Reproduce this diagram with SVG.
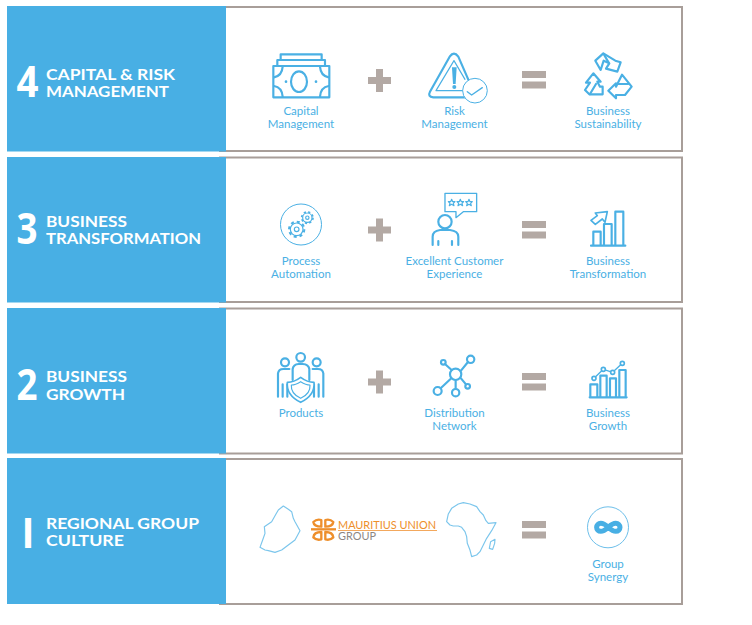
<svg xmlns="http://www.w3.org/2000/svg" width="752" height="625" viewBox="0 0 752 625">
<style>
.frame{fill:#fff;stroke:#a89e99;stroke-width:2}
.blue{fill:#48afe4}
.num{font:700 43px "Open Sans",sans-serif;fill:#fff}
.title{font:700 15.500px "Lato",sans-serif;fill:#fff}
.lbl{font:400 11.500px "Lato",sans-serif;fill:#4ab0e4;text-anchor:middle}
.op{fill:#b3a9a4}
.ic{fill:none;stroke:#4ab0e4;stroke-width:6.500;stroke-linejoin:round;stroke-linecap:round}
.th{fill:none;stroke:#4ab0e4;stroke-width:3.500;stroke-linejoin:round;stroke-linecap:round}
.map{fill:none;stroke:#7cc6ec;stroke-width:3.500;stroke-linejoin:round}
</style>
<defs>
<g id="plus"><rect x="-11.500" y="-3.500" width="23" height="7"/><rect x="-3.500" y="-11.500" width="7" height="23"/></g>
<g id="eq"><rect x="0" y="0" width="24" height="7"/><rect x="0" y="10.500" width="24" height="7"/></g>
</defs>
<rect width="752" height="625" fill="#fff"/>
<g id="row4">
<rect class="frame" x="220" y="7" width="462" height="144"/>
<rect class="blue" x="7" y="6" width="219" height="145.500"/>
<text class="num" x="16.500" y="97" textLength="22" lengthAdjust="spacingAndGlyphs">4</text>
<text class="title" x="46" y="80" textLength="129" lengthAdjust="spacingAndGlyphs">CAPITAL &amp; RISK</text>
<text class="title" x="46" y="97" textLength="123" lengthAdjust="spacingAndGlyphs">MANAGEMENT</text>
</g>
<g id="row3">
<rect class="frame" x="220" y="157.500" width="462" height="144.500"/>
<rect class="blue" x="7" y="157" width="219" height="145.500"/>
<text class="num" x="16.500" y="244" textLength="21" lengthAdjust="spacingAndGlyphs">3</text>
<text class="title" x="46" y="227" textLength="81" lengthAdjust="spacingAndGlyphs">BUSINESS</text>
<text class="title" x="46" y="244" textLength="155" lengthAdjust="spacingAndGlyphs">TRANSFORMATION</text>
</g>
<g id="row2">
<rect class="frame" x="220" y="308.500" width="462" height="145"/>
<rect class="blue" x="7" y="308" width="219" height="145.500"/>
<text class="num" x="16.500" y="400" textLength="21" lengthAdjust="spacingAndGlyphs">2</text>
<text class="title" x="46" y="382" textLength="81" lengthAdjust="spacingAndGlyphs">BUSINESS</text>
<text class="title" x="46" y="400" textLength="79" lengthAdjust="spacingAndGlyphs">GROWTH</text>
</g>
<g id="row1">
<rect class="frame" x="220" y="459" width="462" height="145"/>
<rect class="blue" x="7" y="458" width="219" height="146"/>
<text class="num" x="21.500" y="548" style="font-size:41px" textLength="13" lengthAdjust="spacingAndGlyphs">I</text>
<text class="title" x="46" y="529" textLength="153" lengthAdjust="spacingAndGlyphs">REGIONAL GROUP</text>
<text class="title" x="46" y="546" textLength="78" lengthAdjust="spacingAndGlyphs">CULTURE</text>
</g>
<g id="capital-management">
<g transform="translate(250 40) scale(.3333)">
<rect class="ic" x="70" y="78" width="168" height="94"/>
<path class="ic" d="M82 78V60H225V78M92 60V43H215V60"/>
<ellipse class="ic" cx="147" cy="125" rx="24" ry="31"/>
<path class="ic" d="M72 112Q96 108 98 80M72 138Q96 142 98 170M236 112Q212 108 210 80M236 138Q212 142 210 170"/>
<circle cx="108" cy="125" r="4" fill="#4ab0e4"/><circle cx="198" cy="125" r="4" fill="#4ab0e4"/>
</g>
<text class="lbl" x="301" y="115">Capital</text><text class="lbl" x="301" y="128">Management</text>
</g>
<g id="risk-management">
<g transform="translate(250 40) scale(.3333)">
<path class="ic" d="M660 130L625 50Q612 32 599 50L540 155Q532 170 550 172H650"/>
<path class="th" d="M612 62L558 152H640M612 62L645 118"/>
<path d="M606 82H620L617 132H609Z" fill="#4ab0e4"/><circle cx="613" cy="141" r="6" fill="#4ab0e4"/>
<circle cx="675" cy="152" r="37" fill="#fff" stroke="#4ab0e4" stroke-width="3"/>
<path class="ic" style="stroke-width:4" d="M652 155L665 165L697 143"/>
</g>
<text class="lbl" x="454.500" y="115">Risk</text><text class="lbl" x="454.500" y="128">Management</text>
</g>
<g id="business-sustainability">
<g transform="translate(510 40) scale(.3333)">
<path class="ic" d="M256 62L280 40L316 62L332 67L322 95L288 86L298 70L281 62L272 90Z"/>
<path class="ic" d="M281 42L296 68"/>
<path class="ic" d="M228 128L250 100L272 125L262 125L270 140H278V163H238L225 150L240 128Z"/>
<path class="ic" d="M240 162L258 132"/>
<path class="ic" d="M295 152L318 130V140L336 104L365 140L345 165H318V175Z"/>
<path class="ic" d="M322 132H355"/>
</g>
<text class="lbl" x="608" y="115">Business</text><text class="lbl" x="608" y="128">Sustainability</text>
</g>
<g id="process-automation">
<circle cx="301" cy="224.500" r="20.500" fill="none" stroke="#4ab0e4" stroke-width="1"/>
<g transform="translate(250 185) scale(.3333)">
<circle cx="140" cy="133" r="19" fill="#fff" stroke="#4ab0e4" stroke-width="3.500"/>
<circle cx="140" cy="133" r="23" fill="none" stroke="#4ab0e4" stroke-width="6" stroke-dasharray="9 9"/>
<circle cx="140" cy="133" r="7" class="th"/>
<circle cx="172" cy="98" r="14" fill="#fff" stroke="#4ab0e4" stroke-width="3.500"/>
<circle cx="172" cy="98" r="17" fill="none" stroke="#4ab0e4" stroke-width="5" stroke-dasharray="6.700 6.700"/>
<circle cx="172" cy="98" r="5" class="th"/>
</g>
<text class="lbl" x="301" y="265">Process</text><text class="lbl" x="301" y="278">Automation</text>
</g>
<g id="customer-experience">
<g transform="translate(250 185) scale(.3333)">
<path class="ic" style="stroke-width:4" d="M585 80V25H680V80H640L618 98V80Z"/>
<circle class="ic" cx="585" cy="110" r="20"/>
<path class="ic" d="M548 180V155Q548 138 570 135H600Q625 138 625 155V180M565 168V180M606 168V180"/>
<g class="th"><path d="M605 43L608 50H615L610 55L612 62L605 58L598 62L600 55L595 50H602Z"/><path d="M631 43L634 50H641L636 55L638 62L631 58L624 62L626 55L621 50H628Z"/><path d="M657 43L660 50H667L662 55L664 62L657 58L650 62L652 55L647 50H654Z"/></g>
</g>
<text class="lbl" x="454.500" y="265">Excellent Customer</text><text class="lbl" x="454.500" y="278">Experience</text>
</g>
<g id="business-transformation">
<g transform="translate(510 195) scale(.3333)">
<path class="ic" d="M250 150V110H272V150M282 150V87H305V150M316 150V50H340V150M243 152H346"/>
<path class="ic" style="stroke-width:5" d="M243 76L262 62L256 54L292 50L285 82L277 72L256 88Z"/>
</g>
<text class="lbl" x="608" y="265">Business</text><text class="lbl" x="608" y="278">Transformation</text>
</g>
<g id="products">
<g transform="translate(250 345) scale(.3333)">
<circle class="ic" cx="152" cy="37" r="13"/><circle class="ic" cx="105" cy="52" r="12"/><circle class="ic" cx="200" cy="52" r="12"/>
<path class="ic" d="M128 105V72Q130 58 146 57H158Q176 58 178 72V105"/>
<path class="ic" d="M84 125V85Q86 72 100 72H118M84 125V155M98 118V155M112 118V155M220 125V85Q218 72 204 72H188M220 125V155M206 118V155M192 118V155"/>
<path fill="#fff" stroke="#4ab0e4" stroke-width="5" stroke-linejoin="round" d="M152 97Q172 112 192 112Q196 150 152 172Q108 150 112 112Q132 112 152 97Z"/>
<path class="th" d="M152 110Q168 120 180 120Q182 146 152 160Q122 146 124 120Q136 120 152 110Z"/>
</g>
<text class="lbl" x="301" y="417">Products</text>
</g>
<g id="distribution-network">
<g transform="translate(250 345) scale(.3333)">
<path class="ic" d="M585 57L605 75M633 77L654 51M604 100L572 130M617 106V132M633 100L648 118"/>
<circle class="ic" cx="617" cy="88" r="17"/><circle class="ic" cx="580" cy="52" r="7"/><circle class="ic" cx="662" cy="43" r="11"/><circle class="ic" cx="563" cy="138" r="12"/><circle class="ic" cx="617" cy="143" r="11"/><circle class="ic" cx="653" cy="124" r="7"/>
</g>
<text class="lbl" x="454.500" y="417">Distribution</text><text class="lbl" x="454.500" y="430">Network</text>
</g>
<g id="business-growth">
<g transform="translate(510 350) scale(.3333)">
<path class="ic" d="M241 140V103H262V140M271 140V77H290V140M300 140V85H318V140M328 140V60H347V140M239 142H350"/>
<path class="ic" style="stroke-width:4" d="M252 85L280 58L308 67L337 40"/>
<g fill="#fff" stroke="#4ab0e4" stroke-width="5"><circle cx="252" cy="85" r="6"/><circle cx="280" cy="58" r="6"/><circle cx="308" cy="67" r="6"/><circle cx="337" cy="40" r="6"/></g>
</g>
<text class="lbl" x="608" y="417">Business</text><text class="lbl" x="608" y="430">Growth</text>
</g>
<g id="regional-logo">
<g transform="translate(250 490) scale(.3333)">
<path class="map" d="M30 172L38 150L45 130L43 110L65 95L78 72L85 60L100 48L115 58L125 65L130 85L135 95L150 122L135 150L115 165L95 180L75 187L55 182L45 180Z"/>
<path class="map" d="M590 95L595 72L605 55L625 42L640 38L660 42L680 50L690 65L700 75L708 92L715 100L738 98L725 122L710 145L700 165L690 185L680 195L665 200L660 180L652 160L650 140L645 125L635 112L625 108L610 108L600 105Z"/>
<path class="map" d="M722 155L735 148L734 160L728 178L718 175Z"/>
<g fill="none" stroke="#ee8f2b" stroke-width="7" stroke-linejoin="round">
<path d="M214 110Q192 110 190 96Q200 86 214 90Z"/><path d="M226 110Q248 110 250 96Q240 86 226 90Z"/>
<path d="M214 126Q192 126 190 142Q200 152 214 148Z"/><path d="M226 126Q248 126 250 142Q240 152 226 148Z"/>
<path d="M183 118H258"/>
</g>
</g>
<text x="338" y="528.500" style="font:400 11px 'Lato',sans-serif;fill:#ee8f2b" textLength="98" lengthAdjust="spacingAndGlyphs">MAURITIUS UNION</text>
<rect x="338" y="530" width="99" height="1" fill="#f3a85d"/>
<text x="338" y="539.500" style="font:400 10.500px 'Lato',sans-serif;fill:#8d8682" textLength="38" lengthAdjust="spacingAndGlyphs">GROUP</text>
</g>
<g id="group-synergy">
<circle cx="608" cy="527.300" r="20.500" fill="none" stroke="#6dbfea" stroke-width="1"/>
<path fill="none" stroke="#48afe4" stroke-width="5" d="M608.300 527.300C605.300 524.500 603.300 523.300 600.800 523.300C598.300 523.300 596.600 525 596.600 527.300C596.600 529.600 598.300 531.300 600.800 531.300C603.300 531.300 605.300 530 608.300 527.300C611.300 524.500 613.300 523.300 615.800 523.300C618.300 523.300 620 525 620 527.300C620 529.600 618.300 531.300 615.800 531.300C613.300 531.300 611.300 530 608.300 527.300Z"/>
<text class="lbl" x="608" y="568">Group</text><text class="lbl" x="608" y="581">Synergy</text>
</g>
<g id="connectors">
<use href="#plus" class="op" x="379.500" y="80.500"/>
<use href="#eq" class="op" x="522" y="71"/>
<use href="#plus" class="op" x="379.500" y="230"/>
<use href="#eq" class="op" x="522" y="221"/>
<use href="#plus" class="op" x="379.500" y="382"/>
<use href="#eq" class="op" x="522" y="373"/>
<use href="#eq" class="op" x="522" y="521"/>
</g>
</svg>
